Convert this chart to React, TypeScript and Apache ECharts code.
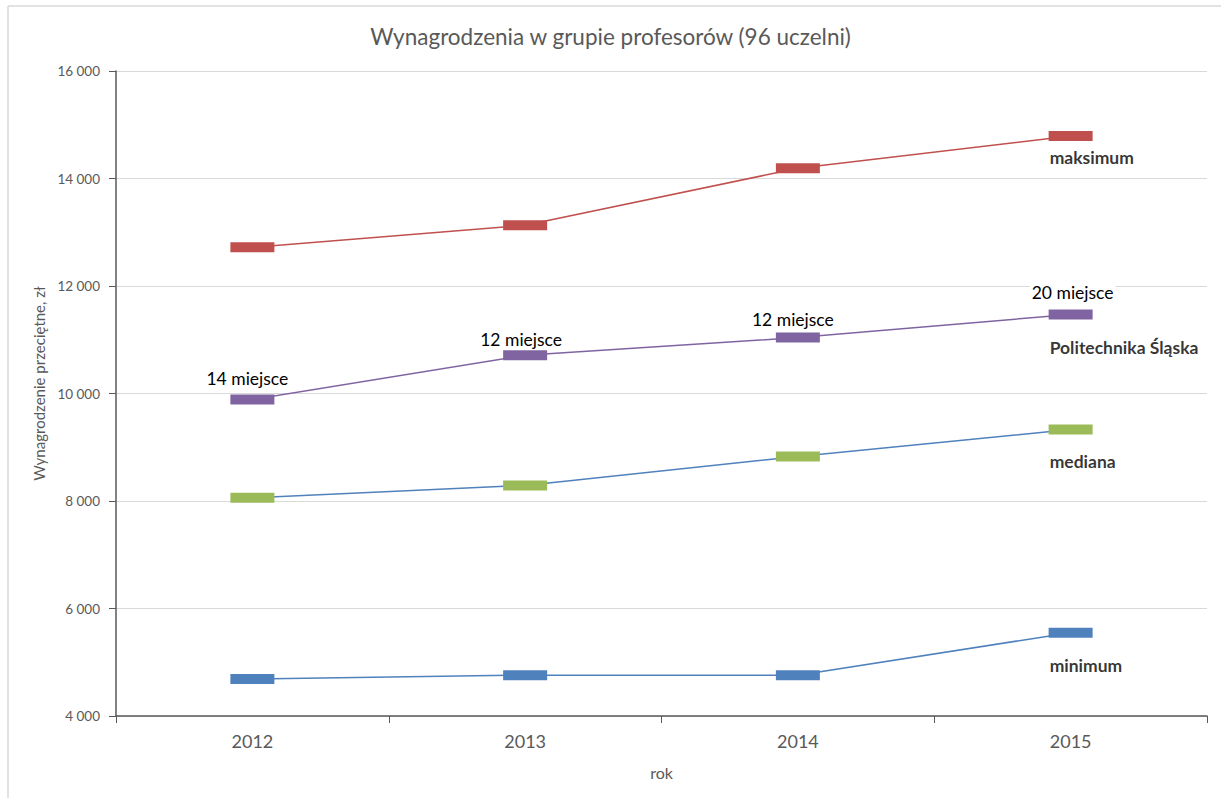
import React, { useEffect, useRef } from "react";
import * as echarts from "echarts";

const years = ["2012", "2013", "2014", "2015"];
const maxValues = [12720, 13130, 14190, 14790];
const polslValues = [9890, 10710, 11040, 11470];
const medianValues = [8060, 8290, 8830, 9330];
const minValues = [4690, 4760, 4760, 5550];
const ranks = ["14 miejsce", "12 miejsce", "12 miejsce", "20 miejsce"];
const rankOffsets = [[-5, -21], [-4, -16], [-5, -18], [2, -22]];

const FONT = "Lato";

export default function App() {
  const ref = useRef<HTMLDivElement>(null);
  useEffect(() => {
    if (!ref.current) return;
    const chart = echarts.init(ref.current, undefined, { renderer: "svg" });
    const markerSize = [44, 10];
    const mkLine = (name: string, data: any[], marker: string, line: string) => ({
      name,
      type: "line",
      data,
      symbol: "rect",
      symbolSize: markerSize,
      itemStyle: { color: marker },
      lineStyle: { color: line, width: 1.5 },
      z: 3,
    });
    const nameLabel = (text: string, value: number, dy: number) => ({
      type: "scatter",
      data: [[3, value]],
      symbolSize: 0,
      silent: true,
      z: 5,
      label: {
        show: true,
        position: "inside",
        align: "left",
        verticalAlign: "middle",
        offset: [-21, dy],
        formatter: text,
        fontFamily: FONT,
        fontWeight: "bold",
        fontSize: 17.5,
        color: "#000",
      },
    });
    chart.setOption({
      animation: false,
      backgroundColor: "#fff",
      title: {
        text: "Wynagrodzenia w grupie profesorów (96 uczelni)",
        left: "center",
        top: 20,
        textStyle: { fontFamily: FONT, fontSize: 22.5, fontWeight: "normal", color: "#595959" },
      },
      graphic: [
        { type: "line", shape: { x1: 8, y1: 6, x2: 1221, y2: 6 }, style: { stroke: "#D9D9D9", lineWidth: 1.5 } },
        { type: "line", shape: { x1: 8, y1: 6, x2: 8, y2: 798 }, style: { stroke: "#D9D9D9", lineWidth: 1.5 } },
      ],
      grid: { left: 116, right: 14, top: 71, bottom: 82, containLabel: false },
      xAxis: {
        type: "category",
        data: years,
        boundaryGap: true,
        name: "rok",
        nameLocation: "middle",
        nameGap: 48,
        nameTextStyle: { fontFamily: FONT, fontSize: 16, color: "#595959" },
        axisLine: { lineStyle: { color: "#595959", width: 1.5 } },
        axisTick: { show: true, length: 7, lineStyle: { color: "#595959" } },
        axisLabel: { fontFamily: FONT, fontSize: 18, color: "#595959", margin: 16 },
        splitLine: { show: false },
      },
      yAxis: {
        type: "value",
        min: 4000,
        max: 16000,
        interval: 2000,
        name: "Wynagrodzenie przeciętne, zł",
        nameLocation: "middle",
        nameGap: 69,
        nameRotate: 90,
        nameTextStyle: { fontFamily: FONT, fontSize: 15, color: "#595959", padding: [0, 0, 0, 20] },
        axisLine: { show: true, lineStyle: { color: "#595959", width: 1.5 } },
        axisTick: { show: true, length: 7, lineStyle: { color: "#595959" } },
        axisLabel: {
          fontFamily: FONT,
          fontSize: 13.5,
          color: "#595959",
          margin: 16,
          formatter: (v: number) => String(v).replace(/\B(?=(\d{3})+(?!\d))/g, " "),
        },
        splitLine: { show: true, lineStyle: { color: "#D9D9D9", width: 1 } },
      },
      series: [
        mkLine("maksimum", maxValues, "#C0504D", "#C0504D"),
        mkLine(
          "Politechnika Śląska",
          polslValues.map((v, i) => ({
            value: v,
            label: {
              show: true,
              position: "inside",
              offset: rankOffsets[i],
              formatter: ranks[i],
              fontFamily: FONT,
              fontSize: 17.5,
              color: "#000",
              backgroundColor: "#fff",
              padding: [0, 2],
            },
          })),
          "#8064A2",
          "#8064A2"
        ),
        mkLine("mediana", medianValues, "#9BBB59", "#4F81BD"),
        mkLine("minimum", minValues, "#4F81BD", "#4F81BD"),
        nameLabel("maksimum", maxValues[3], 21),
        nameLabel("Politechnika Śląska", polslValues[3], 33),
        nameLabel("mediana", medianValues[3], 32),
        nameLabel("minimum", minValues[3], 33),
      ],
    });
    return () => chart.dispose();
  }, []);
  return (
    <div
      ref={ref}
      style={{ position: "fixed", left: 0, top: 0, width: 1221, height: 798 }}
    />
  );
}
